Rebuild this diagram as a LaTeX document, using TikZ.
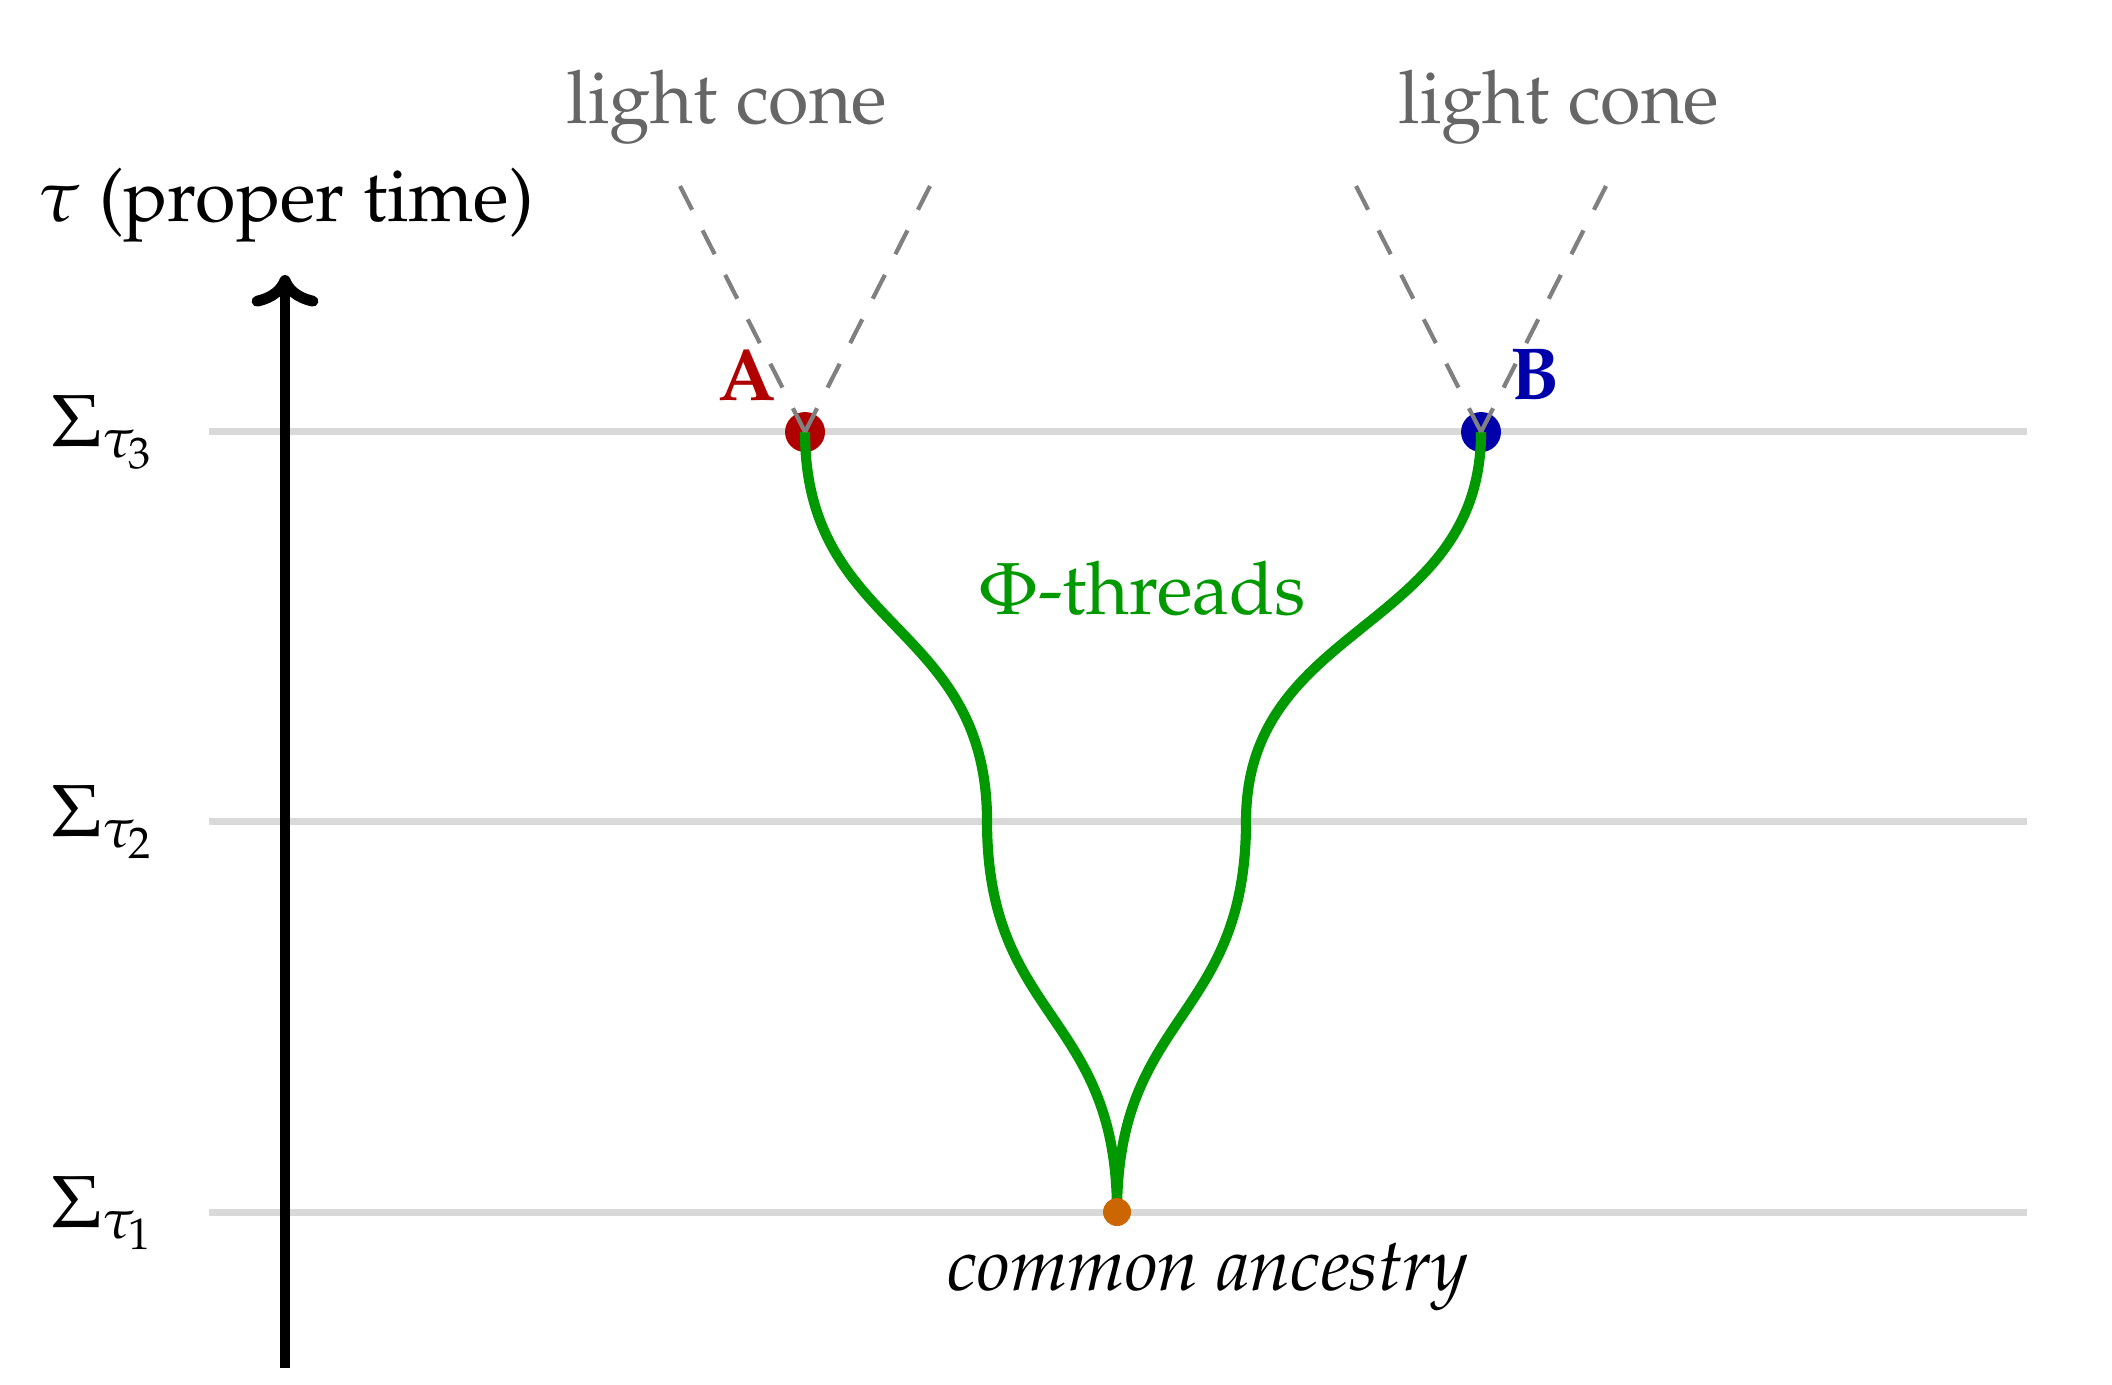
\documentclass[tikz,border=0pt]{standalone}
\usepackage[T1]{fontenc}
\usepackage{mathpazo}
\usetikzlibrary{arrows.meta,positioning}
\definecolor{Ared}{RGB}{176,0,0}
\definecolor{Bblue}{RGB}{0,0,170}
\definecolor{threadgreen}{RGB}{0,153,0}
\definecolor{ancorange}{RGB}{204,102,0}
\definecolor{slicegray}{RGB}{217,217,217}
\definecolor{conegray}{RGB}{128,128,128}
\definecolor{labelgray}{RGB}{102,102,102}

\begin{document}
\begin{tikzpicture}[x=0.005cm,y=-0.005cm,
    font=\fontsize{10.5}{12.6}\selectfont,
    slice/.style={slicegray, line width=1pt},
    cone/.style={conegray, line width=0.6pt, dash pattern=on 3.8pt off 3.3pt},
    thread/.style={threadgreen, line width=1.45pt},
    event/.style={circle, inner sep=0pt, minimum size=0.2cm}]
    \useasboundingbox (0,0) rectangle (2112,1384);
    % hypersurfaces
    \foreach \y/\k in {431/3, 821/2, 1212/1} {
        \draw[slice] (209,\y) -- (2027,\y);
        \node[anchor=base west, inner sep=0pt] (s\k) at (50,\y+15) {$\Sigma_{\tau_{\k}}$};
    }
    % time axis
    \coordinate (tbot) at (285,1368);
    \coordinate (ttop) at (285,275);
    \draw[line width=1.55pt, -{To[length=4.5pt,width=9.5pt]}] (tbot) -- (ttop);
    \node (tlabel) at (286,205) {$\tau$ (proper time)};
    % events
    \node[event, fill=Ared] (A) at (805,432) {};
    \node[event, fill=Bblue] (B) at (1481,432) {};
    \node[Ared] (Alabel) at (747,375) {\textbf{A}};
    \node[Bblue] (Blabel) at (1535,375) {\textbf{B}};
    \coordinate (anc) at (1117,1212);
    \coordinate (M1) at (987,821);
    \coordinate (M2) at (1246,821);
    % threads
    \draw[thread] (A.center) .. controls +(0,200) and +(0,-200) .. (M1)
        .. controls +(0,200) and +(0,-200) .. (anc);
    \draw[thread] (B.center) .. controls +(0,200) and +(0,-200) .. (M2)
        .. controls +(0,200) and +(0,-200) .. (anc);
    \node[event, fill=ancorange, minimum size=0.14cm] (ancdot) at (anc) {};
    % light cones
    \coordinate (Acl) at (680,186);
    \coordinate (Acr) at (930,186);
    \coordinate (Bcl) at (1356,186);
    \coordinate (Bcr) at (1606,186);
    \draw[cone] (A.center) -- (Acl);
    \draw[cone] (A.center) -- (Acr);
    \draw[cone] (B.center) -- (Bcl);
    \draw[cone] (B.center) -- (Bcr);
    \node[labelgray] (Acone) at (727,107) {light cone};
    \node[labelgray] (Bcone) at (1559,107) {light cone};
    \node[threadgreen, anchor=base] (phi) at (1142,614) {$\Phi$-threads};
    \node[anchor=base] (anclabel) at (1208,1290) {\textit{common ancestry}};
\end{tikzpicture}
\end{document}
